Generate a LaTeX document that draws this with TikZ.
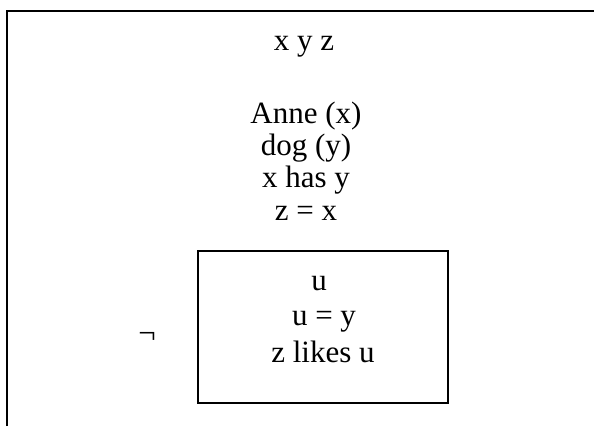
\documentclass[tikz,border=0pt]{standalone}
\usepackage{fontspec}
\setmainfont{Liberation Serif}
\tikzset{
  drs/.style={anchor=base, inner sep=0pt, font=\fontsize{31}{37}\selectfont},
  boxline/.style={line width=1.3pt}
}
\begin{document}
\begin{tikzpicture}[x=1pt,y=-1pt]
        \useasboundingbox (0,0) rectangle (594,426);
        % outer box
        \coordinate (obl) at (7,426);
        \coordinate (otl) at (7,11);
        \coordinate (otr) at (594,11);
        \draw[line width=2pt] (obl) -- (otl) -- (otr);
        \node[drs] (xyz) at (304,50) {x y z};
        \node[drs] (anne) at (306,123) {Anne (x)};
        \node[drs] (dog) at (306,155) {dog (y)};
        \node[drs] (has) at (306,187) {x has y};
        \node[drs] (zx) at (306,220) {z = x};
        % negated box
        \node[drs] (neg) at (147,343) {¬};
        \draw[boxline] (198,251) rectangle (448,403);
        \node[drs] (u) at (319,290) {u};
        \node[drs] (uy) at (324,325) {u = y};
        \node[drs] (likes) at (323,362) {z likes u};
    \end{tikzpicture}
\end{document}
